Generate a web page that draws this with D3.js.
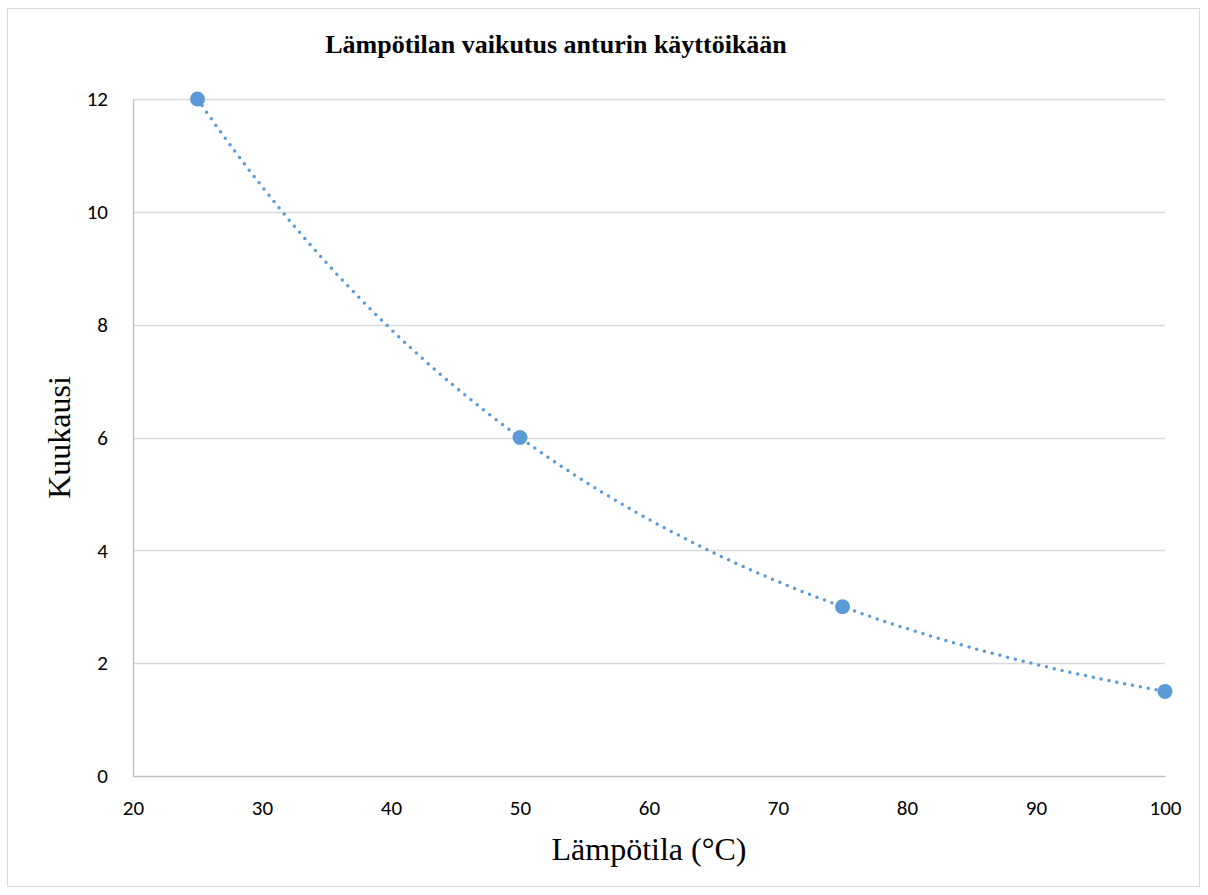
<!DOCTYPE html>
<html>
<head>
<meta charset="UTF-8">
<title>Lämpötilan vaikutus</title>
<script src="https://cdn.jsdelivr.net/npm/d3@7"></script>
<style>
  body { margin: 0; background: #fff; }
</style>
</head>
<body>
<div id="app"></div>
<script>
    // data
    var temps = [25, 50, 75, 100];
    var months = [12, 6, 3, 1.5];
    var xTicks = [20, 30, 40, 50, 60, 70, 80, 90, 100];
    var yTicks = [0, 2, 4, 6, 8, 10, 12];

    var W = 1208, H = 895;
    var mLeft = 133, mRight = 1165, mTop = 99, mBottom = 776;

    var svg = d3.select('#app').append('svg')
        .attr('width', W).attr('height', H);

    // chart border
    svg.append('rect')
        .attr('x', 7.5).attr('y', 8.5)
        .attr('width', 1192).attr('height', 878)
        .attr('fill', '#fff').attr('stroke', '#d9d9d9').attr('stroke-width', 1);

    var x = d3.scaleLinear().domain([20, 100]).range([mLeft, mRight]);
    var y = d3.scaleLinear().domain([0, 12]).range([mBottom, mTop]);

    // gridlines
    svg.append('g').selectAll('line')
        .data(yTicks.slice(1))
        .enter().append('line')
        .attr('x1', mLeft).attr('x2', mRight)
        .attr('y1', function(d){ return Math.round(y(d)) + 0.5; })
        .attr('y2', function(d){ return Math.round(y(d)) + 0.5; })
        .attr('stroke', '#d9d9d9').attr('stroke-width', 1.3);

    // axes
    var xAxis = svg.append('g')
        .attr('transform', 'translate(0,' + mBottom + ')')
        .call(d3.axisBottom(x).tickValues(xTicks).tickSize(0).tickPadding(24));
    var yAxis = svg.append('g')
        .attr('transform', 'translate(' + mLeft + ',0)')
        .call(d3.axisLeft(y).tickValues(yTicks).tickSize(0).tickPadding(25));
    [xAxis, yAxis].forEach(function(g){
        g.select('.domain').attr('stroke', '#bfbfbf').attr('stroke-width', 1.3);
        g.selectAll('text')
            .attr('font-family', 'Carlito, "Open Sans", "Liberation Sans", sans-serif')
            .attr('font-size', 21).attr('fill', '#000');
    });

    // exponential trendline, fitted on ln(y)
    var lx = temps, ly = months.map(Math.log);
    var mx = d3.mean(lx), my = d3.mean(ly);
    var b = d3.sum(lx, function(v, i){ return (v - mx) * (ly[i] - my); }) /
            d3.sum(lx, function(v){ return (v - mx) * (v - mx); });
    var a = my - b * mx;
    var trend = d3.range(25, 100.01, 0.5).map(function(t){ return [t, Math.exp(a + b * t)]; });
    var line = d3.line()
        .x(function(d){ return x(d[0]); })
        .y(function(d){ return y(d[1]); });
    svg.append('path')
        .attr('d', line(trend))
        .attr('fill', 'none')
        .attr('stroke', '#5b9bd5')
        .attr('stroke-width', 3.5)
        .attr('stroke-linecap', 'round')
        .attr('stroke-dasharray', '0,8');

    // points
    svg.append('g').selectAll('circle')
        .data(temps)
        .enter().append('circle')
        .attr('cx', function(d){ return x(d); })
        .attr('cy', function(d, i){ return y(months[i]); })
        .attr('r', 7.5)
        .attr('fill', '#5b9bd5');

    // titles
    svg.append('text')
        .attr('x', 556).attr('y', 53)
        .attr('text-anchor', 'middle')
        .attr('font-family', '"Liberation Serif", "Times New Roman", serif')
        .attr('font-weight', 'bold').attr('font-size', 26)
        .text('Lämpötilan vaikutus anturin käyttöikään');
    svg.append('text')
        .attr('x', (mLeft + mRight) / 2).attr('y', 860)
        .attr('text-anchor', 'middle')
        .attr('font-family', '"Liberation Serif", "Times New Roman", serif')
        .attr('font-size', 32)
        .text('Lämpötila (°C)');
    svg.append('text')
        .attr('transform', 'translate(70,' + (mTop + mBottom) / 2 + ') rotate(-90)')
        .attr('text-anchor', 'middle')
        .attr('font-family', '"Liberation Serif", "Times New Roman", serif')
        .attr('font-size', 32)
        .text('Kuukausi');
</script>
</body>
</html>
